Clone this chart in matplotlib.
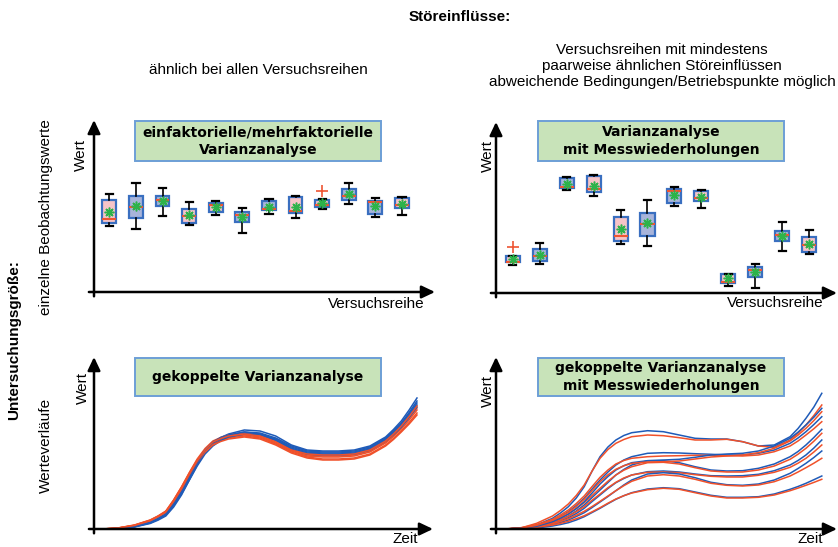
import matplotlib
matplotlib.use("Agg")
import matplotlib.pyplot as plt
from matplotlib.patches import Rectangle

W, H = 838, 547

# --- Boxplots oben links: Störeinflüsse ähnlich bei allen Versuchsreihen ---
tl_whislo = [66, 63, 76, 67, 77, 59, 78, 74, 83, 88, 75, 77]
tl_q1 = [69, 74, 86, 69, 80, 70, 82, 79, 85, 92, 78, 84]
tl_med = [73, 85, 92, 76, 87, 77, 83, 81, 87, 96, 90.5, 87]
tl_q3 = [92, 96, 96, 83, 89, 80, 91, 95, 92, 103, 91.5, 94]
tl_whishi = [98, 109, 104, 90, 91, 84, 93, 96, 93, 109, 94, 95]
tl_mean = [80, 86, 91, 77, 85, 75, 85, 85, 89, 98, 86, 88]
tl_fliers = [[], [], [], [], [], [], [], [], [101], [], [], []]

# --- Boxplots oben rechts: Messwiederholungen ---
tr_whislo = [28, 29, 103, 97, 49, 47, 87, 85, 7, 5, 42, 39]
tr_q1 = [31, 32, 105, 101, 52, 57, 90, 92, 10, 16, 52, 41]
tr_med = [31.5, 37, 106, 104, 57, 69, 102, 95, 11, 23, 58, 48]
tr_q3 = [37, 44, 115, 117, 76, 80, 104, 102, 19, 26, 62, 56]
tr_whishi = [37, 50, 116, 118, 83, 93, 106, 103, 19, 29, 71, 63]
tr_mean = [34, 38, 109, 107, 64, 70, 98, 96, 15, 21, 57, 49]
tr_fliers = [[46], [], [], [], [], [], [], [], [], [], [], []]

# Gruppe je Versuchsreihe (Füllfarbe)
gruppe = ["r", "b", "b", "r", "r", "b", "b", "r", "r", "b", "b", "r"]

# --- Werteverläufe ---
zeit = [0, 0.5, 1, 1.5, 1.75, 2, 2.25, 2.5, 2.75, 3, 3.25, 3.5, 3.75, 4, 4.5,
        5, 5.5, 6, 6.5, 7, 7.5, 8, 8.5, 9, 9.25, 9.5, 9.75, 10]

# unten links: gekoppelte Varianzanalyse (Verläufe eng beieinander)
bl_blau = [
    [0, 0.3, 2, 5.5, 8.8, 13, 22, 34, 49, 64, 77, 86, 91.5, 95, 99, 98, 93, 84, 79, 78, 78, 79, 83, 92, 99.5, 108, 119, 131],
    [0, 0.4, 2.2, 6, 9.5, 14, 24, 36, 51, 65, 77, 85, 90.5, 94, 97, 96, 91, 83, 78, 77, 77, 78, 82, 91, 98, 106, 116.5, 128],
    [0, 0.5, 2.5, 6.5, 10.3, 15, 25, 37, 52, 66, 78, 86, 90.5, 93, 96, 95, 90, 82, 77, 76, 76, 77, 81, 90, 97, 105, 115, 126],
    [0, 0.4, 2.3, 6.2, 9.7, 14, 23.5, 35, 49, 63, 75, 83, 88.5, 92, 95, 94, 89, 81, 76, 75, 75, 76, 80, 89, 96, 104, 113.5, 124],
    [0, 0.5, 2.6, 6.8, 10.5, 15, 25.5, 38, 53, 67, 79, 87, 91.5, 94, 97, 95, 89, 80, 75, 74, 74, 75, 79, 88, 94.5, 102, 111.5, 122],
]
bl_rot = [
    [0, 1.2, 4, 9, 13, 18, 29, 42, 56, 69, 79, 86, 89.5, 92, 94, 92, 86, 78, 73, 72, 72, 73, 77, 86, 92.5, 100, 109, 119],
    [0, 1.0, 3.6, 8.5, 12.5, 17, 28, 41, 55, 68, 78, 85, 88.5, 91, 93, 91, 85, 77, 72, 70, 70, 71, 75, 84, 90.5, 98, 106.5, 116],
    [0, 1.1, 3.8, 8.8, 12.8, 17.5, 29, 42, 56.5, 70, 80.5, 88, 91.5, 94, 96, 94, 88, 79, 74, 73, 73, 74, 78, 87, 94, 102, 111, 121],
    [0, 0.9, 3.4, 8, 12, 16.5, 27.5, 40, 54, 67, 77, 84, 87.5, 90, 92, 90, 84, 76, 71, 69, 69, 70, 74, 83, 89.5, 97, 105, 114],
    [0, 1.0, 3.5, 8.2, 12.3, 17, 27.5, 40, 54.5, 68, 79, 87, 90.5, 93, 95, 93, 87, 79, 75, 74, 74, 75, 79, 88, 95, 103, 112.5, 123],
]

# unten rechts: gekoppelte Varianzanalyse mit Messwiederholungen
br_blau = [
    [0, 0.7, 4, 10.7, 16, 22.3, 31, 42.3, 58, 72.3, 82, 89, 93.5, 96.3, 98.3, 97.3, 94, 90.7, 90, 90, 87.3, 83, 84, 92.3, 100.5, 110.7, 122, 135.7],
    [0, 0.7, 3.3, 8.3, 12.5, 17.3, 23.5, 30.7, 40, 49, 57, 64, 69, 72.3, 75.7, 76.3, 76, 75.3, 74.7, 74, 74, 75.7, 79, 85.7, 91, 97.3, 104.5, 112.3],
    [0, 0.7, 2.3, 6.3, 9.5, 13, 18, 24, 31.5, 39, 46.5, 54, 59.5, 64, 68.3, 68.3, 66.3, 62.3, 59, 58, 58.3, 60.7, 65, 72.3, 77.5, 84, 91.5, 99.7],
    [0, 0.7, 2, 5.3, 8, 11.3, 15.5, 20.7, 27.5, 34, 40.5, 46.3, 50.5, 54, 57.3, 58, 57, 55, 53.3, 53, 53.3, 54.7, 58.3, 64, 68.5, 74, 81, 89],
    [0, 0.7, 1.7, 4.3, 6.5, 9, 12.5, 16.3, 21.5, 27, 32.5, 38.3, 44, 49, 55, 56.3, 55, 51.3, 46.7, 44.3, 43.7, 45, 49, 55.7, 60.5, 65.7, 71.5, 78],
    [0, 0.3, 1, 3, 4.5, 6.3, 9, 12.3, 16.5, 20.7, 25.3, 29.7, 33.3, 36.3, 40, 41.3, 40.3, 37, 33.7, 31.7, 31.7, 32.3, 35, 39.7, 42.5, 45.7, 49.3, 53],
    [0, 0.7, 2.7, 7.3, 10.8, 15, 20.5, 27.3, 36, 45, 52.5, 59, 63.3, 66.3, 68.3, 69, 69.7, 71.7, 74, 75, 75.7, 78, 83, 90.7, 96.8, 104, 111.8, 120.7],
]
br_rot = [
    [0, 1, 5.7, 13, 18.5, 25, 33.5, 44, 58, 70.7, 79.5, 85.7, 89.5, 92.3, 94, 93.3, 91.3, 89, 89, 89.7, 87.3, 83, 81.7, 89, 95.8, 104, 113.5, 124],
    [0, 1.3, 4.3, 9.7, 14, 19, 25.5, 33, 42.5, 51.7, 59, 65, 68.5, 70.7, 72.3, 73, 73.3, 73.7, 73.7, 73.3, 73, 74, 77.3, 83, 88, 94, 100.3, 107.3],
    [0, 1, 3.3, 7.7, 11, 15, 20.3, 26.3, 33.5, 40.7, 47.8, 54, 58.8, 62.3, 66.3, 66.7, 65, 61.3, 58, 57, 57, 59, 63, 69.7, 74.8, 80.7, 87.8, 95.7],
    [0, 0.7, 2.7, 6.3, 9.3, 12.7, 17.3, 22.3, 28.8, 35, 41.3, 46.7, 51, 54, 56.7, 57, 56.3, 54.3, 52.7, 52, 52, 53.7, 56.7, 61.7, 65.8, 70.7, 77, 84],
    [0, 1, 2.3, 5.3, 7.6, 10.3, 13.8, 17.7, 22.5, 27.7, 33, 38.3, 43.3, 47.7, 53, 54.3, 53, 49.7, 45.7, 43.7, 43, 44, 47.3, 53, 57, 61.3, 65.8, 70.7],
    [0, 0.7, 1.7, 4, 5.6, 7.7, 10.3, 13.3, 17.2, 21.3, 25.8, 30, 33.3, 36, 39.3, 40.7, 39.7, 36.3, 33, 31, 31, 31.7, 34, 38.3, 40.9, 43.7, 46.6, 49.7],
    [0, 0.7, 3.7, 8.7, 12.4, 16.7, 22.5, 29.7, 38.5, 47.3, 54.2, 59.7, 63.2, 65.7, 67, 67.3, 68, 70, 72, 73, 74, 76.3, 80.7, 88, 93.9, 100.7, 108.5, 117.3],
]

BLUE_LINE = "#1f5bb8"
RED_LINE = "#f0512a"
BOX_EDGE = "#3a6fc0"
FILL = {"r": "#f6c4c8", "b": "#a8b4da"}
MED = "#ee5533"
MEAN = "#2db34a"
GREEN = "#c8e3b9"
GREEN_EDGE = "#6d9fd6"

REG = ["Liberation Sans", "DejaVu Sans"]
BOLD_BOX = ["DejaVu Sans"]

fig = plt.figure(figsize=(W / 100, H / 100), dpi=100)


def px_axes(left, top, right, bottom):
    return fig.add_axes([left / W, 1 - bottom / H, (right - left) / W, (bottom - top) / H])


def fx(x):
    return x / W


def fy(y):
    return 1 - y / H


def draw_arrows(ax):
    style = "-|>,head_length=0.8,head_width=0.38"
    kw = dict(arrowstyle=style, lw=1.8, color="black", mutation_scale=10,
              shrinkA=0, shrinkB=0)
    ax.annotate("", xy=(1, 0), xytext=(-0.015, 0), xycoords="axes fraction",
                arrowprops=kw)
    ax.annotate("", xy=(0, 1), xytext=(0, -0.025), xycoords="axes fraction",
                arrowprops=kw)
    ax.axis("off")


def draw_boxes(ax, wl, q1, med, q3, wh, mean, fliers):
    stats = []
    for i in range(len(med)):
        stats.append(dict(whislo=wl[i], q1=q1[i], med=med[i], q3=q3[i],
                          whishi=wh[i], mean=mean[i], fliers=fliers[i]))
    pos = list(range(1, len(med) + 1))
    res = ax.bxp(stats, positions=pos, widths=0.52, capwidths=0.27,
                 patch_artist=True, showmeans=True, manage_ticks=False,
                 boxprops=dict(edgecolor=BOX_EDGE, linewidth=1.6),
                 medianprops=dict(color=MED, linewidth=1.5),
                 whiskerprops=dict(color="black", linewidth=1.2),
                 capprops=dict(color="black", linewidth=1.6),
                 meanprops=dict(marker=(8, 2, 0), markersize=7,
                                markeredgecolor=MEAN, markerfacecolor=MEAN,
                                markeredgewidth=1.1),
                 flierprops=dict(marker="+", markersize=9, markeredgecolor=MED,
                                 markeredgewidth=1.2))
    for b, g in zip(res["boxes"], gruppe):
        b.set_facecolor(FILL[g])


def draw_lines(ax, blau, rot):
    for b, r in zip(blau, rot):
        ax.plot(zeit, b, color=BLUE_LINE, lw=1.1)
        ax.plot(zeit, r, color=RED_LINE, lw=1.1)


def title_box(x0, y0, x1, y1, text):
    fig.patches.append(Rectangle((fx(x0), fy(y1)), (x1 - x0) / W, (y1 - y0) / H,
                                 transform=fig.transFigure, facecolor=GREEN,
                                 edgecolor=GREEN_EDGE, linewidth=1.4))
    fig.text(fx((x0 + x1) / 2), fy((y0 + y1) / 2), text, ha="center", va="center",
             fontsize=10, fontweight="bold", family=BOLD_BOX, linespacing=1.3)


# oben links
ax = px_axes(94, 120, 435, 292)
ax.set_xlim(0.425, 13.24)
ax.set_ylim(0, 172)
draw_boxes(ax, tl_whislo, tl_q1, tl_med, tl_q3, tl_whishi, tl_mean, tl_fliers)
draw_arrows(ax)

# oben rechts
ax = px_axes(496, 122, 837, 293)
ax.set_xlim(0.38, 13.03)
ax.set_ylim(0, 171)
draw_boxes(ax, tr_whislo, tr_q1, tr_med, tr_q3, tr_whishi, tr_mean, tr_fliers)
draw_arrows(ax)

# unten links
ax = px_axes(94, 357, 433, 529)
ax.set_xlim(-0.287, 10.51)
ax.set_ylim(0, 172)
draw_lines(ax, bl_blau, bl_rot)
draw_arrows(ax)

# unten rechts
ax = px_axes(496, 357, 837, 529)
ax.set_xlim(-0.284, 10.48)
ax.set_ylim(0, 172)
draw_lines(ax, br_blau, br_rot)
draw_arrows(ax)

# Titelkästen
title_box(135, 121, 381, 161, "einfaktorielle/mehrfaktorielle\nVarianzanalyse")
title_box(538, 121, 784, 161, "Varianzanalyse\nmit Messwiederholungen")
title_box(135, 358, 381, 396, "gekoppelte Varianzanalyse")
title_box(538, 358, 784, 396, "gekoppelte Varianzanalyse\nmit Messwiederholungen")

# Achsenbeschriftungen
for x, y in [(81, 155), (488, 156), (83, 388), (488, 391)]:
    fig.text(fx(x), fy(y), "Wert", rotation=90, ha="center", va="center",
             fontsize=11, family=REG)
fig.text(fx(376), fy(304), "Versuchsreihe", ha="center", va="center", fontsize=11, family=REG)
fig.text(fx(775), fy(303), "Versuchsreihe", ha="center", va="center", fontsize=11, family=REG)
fig.text(fx(405), fy(539), "Zeit", ha="center", va="center", fontsize=11, family=REG)
fig.text(fx(810), fy(539), "Zeit", ha="center", va="center", fontsize=11, family=REG)

# Kopfzeilen
fig.text(fx(460), fy(17), "Störeinflüsse:", ha="center", va="center",
         fontsize=11, fontweight="bold", family=REG)
fig.text(fx(258), fy(70), "ähnlich bei allen Versuchsreihen", ha="center", va="center",
         fontsize=11, family=REG)
fig.text(fx(662), fy(66), "Versuchsreihen mit mindestens\npaarweise ähnlichen Störeinflüssen\n"
         "abweichende Bedingungen/Betriebspunkte möglich", ha="center", va="center",
         fontsize=11, family=REG, linespacing=1.2)

# linke Spalte
fig.text(fx(14), fy(340), "Untersuchungsgröße:", rotation=90, ha="center", va="center",
         fontsize=11, fontweight="bold", family=REG)
fig.text(fx(46), fy(217), "einzelne Beobachtungswerte", rotation=90, ha="center",
         va="center", fontsize=11, family=REG)
fig.text(fx(46), fy(445), "Werteverläufe", rotation=90, ha="center", va="center",
         fontsize=11, family=REG)

fig.savefig("out.png", dpi=100)
